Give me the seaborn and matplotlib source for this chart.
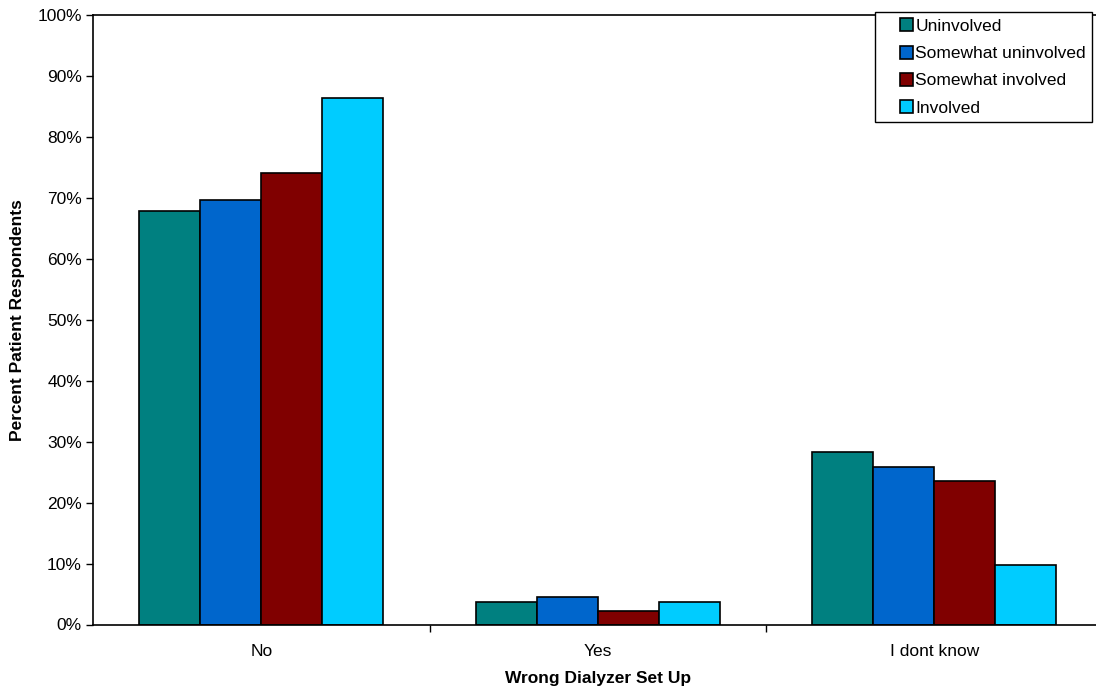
import pandas as pd
import seaborn as sns
import matplotlib.pyplot as plt
from matplotlib.ticker import PercentFormatter
from matplotlib.patches import Rectangle
from matplotlib.legend_handler import HandlerPatch

answers = ['No', 'Yes', 'I dont know']
groups = ['Uninvolved', 'Somewhat uninvolved', 'Somewhat involved', 'Involved']
uninvolved = [67.9, 3.7, 28.3]
somewhat_uninvolved = [69.7, 4.5, 25.8]
somewhat_involved = [74.1, 2.2, 23.6]
involved = [86.4, 3.7, 9.8]
colors = ['#008080', '#0066CC', '#800000', '#00CCFF']

rows = []
for g, vals in zip(groups, [uninvolved, somewhat_uninvolved, somewhat_involved, involved]):
	for a, v in zip(answers, vals):
		rows.append([a, g, v])
df = pd.DataFrame(data=rows, columns=['answer', 'group', 'pct'])

sns.set_style('white')
plt.rcParams['font.family'] = ['Liberation Sans', 'DejaVu Sans']
for k in ['text.color', 'axes.labelcolor', 'xtick.color', 'ytick.color']:
	plt.rcParams[k] = 'black'

fs = 12.5

fig = plt.figure(figsize=(10.96, 6.91), dpi=100)
ax = fig.add_axes([93 / 1096, 66.5 / 691, 1009.5 / 1096, 609.5 / 691])

sns.barplot(data=df, x='answer', y='pct', hue='group', order=answers, hue_order=groups,
	palette=colors, width=0.725, edgecolor='black', linewidth=1.2, saturation=1, ax=ax)

ax.set_xlim(-0.5, 2.5)
ax.set_ylim(0, 100)
ax.set_yticks(range(0, 101, 10))
ax.yaxis.set_major_formatter(PercentFormatter(decimals=0))
ax.set_xticks([0.5, 1.5], minor=True)
ax.tick_params(axis='x', which='major', length=0, labelsize=fs, pad=14)
ax.tick_params(axis='x', which='minor', length=5, width=1, direction='out', bottom=True)
ax.tick_params(axis='y', length=5, width=1, direction='out', left=True, labelsize=fs, pad=3)
for s in ax.spines.values():
	s.set_color('black')
	s.set_linewidth(1.2)

ax.set_xlabel('Wrong Dialyzer Set Up', fontsize=fs, fontweight='bold', labelpad=9)
ax.set_ylabel('Percent Patient Respondents', fontsize=fs, fontweight='bold', labelpad=9)

# square legend keys sitting right next to the text
def square_key(legend, orig_handle, xdescent, ydescent, width, height, fontsize):
	h = 0.75 * fontsize
	return Rectangle((-xdescent + width - h, -ydescent + (height - h) / 2), h, h)

ax.get_legend().remove()
handles, labels = ax.get_legend_handles_labels()
leg = fig.legend(handles, labels, loc='upper left', bbox_to_anchor=(875 / 1096, 1 - 12.5 / 691),
	fontsize=fs, frameon=True, fancybox=False, edgecolor='black', framealpha=1,
	handlelength=1.85, handleheight=0.75, handletextpad=0.12, labelspacing=0.68, borderpad=0.35,
	borderaxespad=0, handler_map={Rectangle: HandlerPatch(patch_func=square_key)})
leg.get_frame().set_linewidth(1)

fig.savefig('out.png', dpi=100)
